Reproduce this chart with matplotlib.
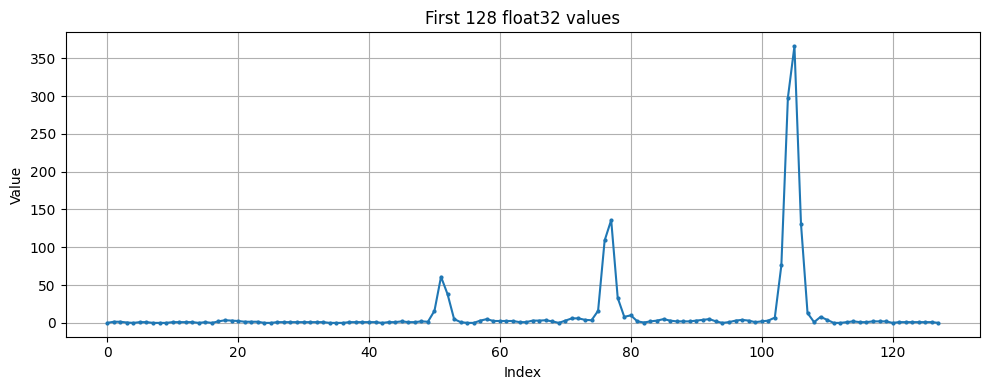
import numpy as np
import matplotlib
matplotlib.use("Agg")
import matplotlib.pyplot as plt

# first 128 float32 values
values = [
    0, 1.5, 1.5, 0.5, 0, 1, 1, 0, 0, 0,
    1, 1, 1, 1, 0, 1, 0, 2, 3.5, 3,
    2.5, 1.5, 1.5, 1.5, 0, 0, 1, 1, 1, 1,
    1, 1, 1, 1, 0, 0, 0, 1, 1, 1,
    1, 1, 0, 1, 1, 2, 1, 1, 2, 1.5,
    16, 61, 38, 5, 1, 0, 0, 3, 5, 2.5,
    2.5, 2.5, 2.5, 1, 1, 3, 3, 3.5, 2, 0,
    3, 6, 6, 4, 3.5, 16, 109, 136, 33, 8,
    10, 2, 0.5, 2, 3, 5, 3, 2, 2, 2,
    3, 4, 5, 2, 0, 1, 3, 4, 3, 1,
    2, 3, 7, 76, 298, 366, 131, 13, 1, 8,
    4, 0, 0, 1, 2, 1, 1, 2, 2, 2,
    0, 1, 1, 1, 1, 1, 1, 0,
]
index = np.arange(len(values))

fig, ax = plt.subplots(figsize=(10, 4), dpi=100)
ax.plot(index, values, marker='o', markersize=2, color='#1f77b4')
ax.set_title('First 128 float32 values')
ax.set_xlabel('Index')
ax.set_ylabel('Value')
ax.grid(True)
fig.tight_layout()
fig.savefig('out.png', bbox_inches='tight')
